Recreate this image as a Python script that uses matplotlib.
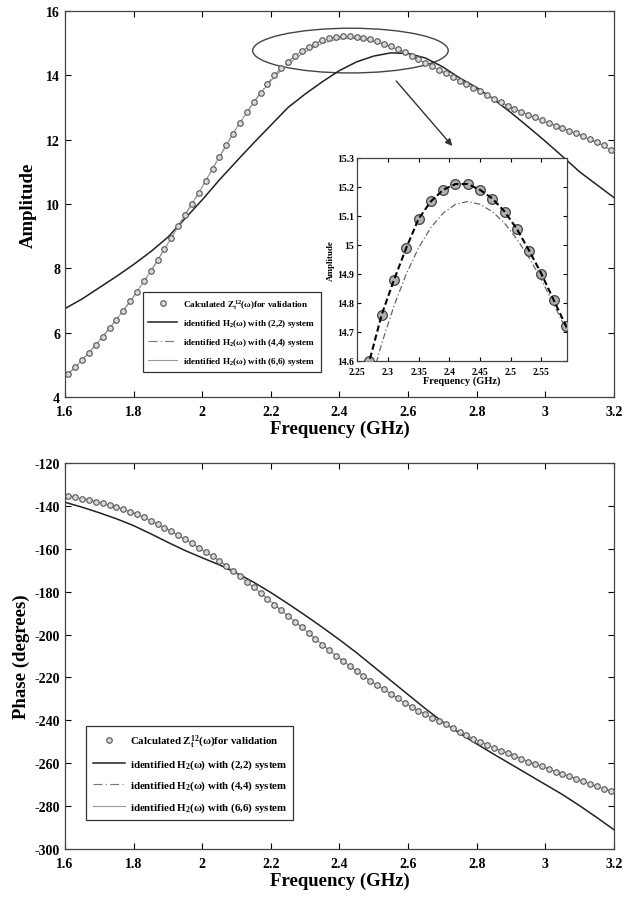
import numpy as np
import matplotlib.pyplot as plt
from matplotlib.patches import Ellipse

plt.rcParams['font.family'] = ['Liberation Serif', 'DejaVu Serif']
plt.rcParams['font.weight'] = 'bold'
plt.rcParams['axes.labelweight'] = 'bold'
plt.rcParams['axes.unicode_minus'] = False
plt.rcParams['mathtext.fontset'] = 'custom'
plt.rcParams['mathtext.rm'] = 'Liberation Serif:bold'
plt.rcParams['mathtext.it'] = 'Liberation Serif:bold'
plt.rcParams['mathtext.bf'] = 'Liberation Serif:bold'

# sampling grid of the calculated (validation) points, GHz
freq = np.round(np.arange(1.61, 3.19 + 0.001, 0.02), 2)
# grid used for the identified curves
line_freq = np.round(np.arange(1.60, 3.20 + 0.001, 0.05), 2)

z_amp = [4.73, 4.93, 5.16, 5.38, 5.63, 5.87, 6.15, 6.41, 6.69, 6.97,
         7.28, 7.60, 7.91, 8.25, 8.61, 8.94, 9.32, 9.67, 10.01, 10.35,
         10.72, 11.10, 11.46, 11.83, 12.19, 12.53, 12.85, 13.16, 13.46, 13.74,
         14.00, 14.22, 14.42, 14.60, 14.76, 14.88, 14.99, 15.09, 15.15, 15.19,
         15.21, 15.21, 15.19, 15.16, 15.115, 15.055, 14.98, 14.90, 14.81, 14.72,
         14.61, 14.50, 14.39, 14.28, 14.17, 14.06, 13.95, 13.83, 13.72, 13.61,
         13.50, 13.39, 13.28, 13.17, 13.06, 12.96, 12.87, 12.78, 12.69, 12.60,
         12.52, 12.44, 12.36, 12.28, 12.20, 12.11, 12.01, 11.92, 11.82, 11.68]

h44_amp = list(z_amp)

h66_amp = [4.73, 4.93, 5.16, 5.38, 5.63, 5.87, 6.15, 6.41, 6.69, 6.97,
           7.28, 7.60, 7.91, 8.25, 8.61, 8.94, 9.32, 9.67, 10.01, 10.35,
           10.72, 11.10, 11.46, 11.83, 12.19, 12.53, 12.85, 13.16, 13.44, 13.70,
           13.94, 14.15, 14.34, 14.51, 14.66, 14.79, 14.90, 14.99, 15.06, 15.11,
           15.14, 15.15, 15.14, 15.115, 15.075, 15.02, 14.955, 14.88, 14.795, 14.71,
           14.60, 14.49, 14.38, 14.27, 14.16, 14.05, 13.94, 13.82, 13.71, 13.60,
           13.49, 13.38, 13.27, 13.16, 13.05, 12.95, 12.86, 12.77, 12.68, 12.59,
           12.51, 12.43, 12.35, 12.27, 12.19, 12.10, 12.00, 11.91, 11.81, 11.67]

h22_amp = [6.75, 7.05, 7.40, 7.75, 8.12, 8.52, 8.97, 9.55, 10.13, 10.75,
           11.33, 11.90, 12.45, 13.00, 13.42, 13.80, 14.15, 14.42, 14.60, 14.70,
           14.68, 14.54, 14.27, 13.92, 13.62, 13.25, 12.84, 12.40, 11.95, 11.48,
           11.00, 10.60, 10.20]

z_phase = [-135.3, -136.0, -136.6, -137.2, -138.0, -138.8, -139.7, -140.7, -141.6, -142.7,
           -143.9, -145.3, -146.9, -148.5, -150.1, -151.8, -153.7, -155.6, -157.5, -159.5,
           -161.5, -163.5, -165.6, -167.9, -170.3, -172.8, -175.4, -178.0, -180.6, -183.3,
           -186.0, -188.6, -191.2, -193.9, -196.6, -199.3, -202.0, -204.7, -207.3, -209.8,
           -212.2, -214.7, -217.0, -219.3, -221.6, -223.7, -225.6, -227.8, -229.8, -231.8,
           -233.7, -235.6, -237.2, -238.8, -240.3, -241.8, -243.6, -245.4, -247.0, -248.5,
           -249.9, -251.4, -252.9, -254.2, -255.3, -256.5, -257.8, -259.3, -260.4, -261.4,
           -262.6, -263.9, -265.0, -266.1, -267.2, -268.5, -269.7, -270.8, -271.9, -272.9]

h44_phase = list(z_phase)
h66_phase = list(z_phase)

h22_phase = [-138.3, -140.6, -143.2, -146.0, -149.2, -153.0, -157.0, -160.8, -164.2, -167.5,
             -171.3, -175.6, -180.4, -185.6, -191.0, -196.6, -202.4, -208.5, -215.0, -221.5,
             -228.0, -234.5, -240.6, -246.0, -251.0, -255.8, -260.5, -265.2, -269.9, -274.6,
             -279.8, -285.3, -291.0]

label_z = r'Calculated $Z_t^{12}$(ω)for validation'
label_22 = r'identified H$_2$(ω) with (2,2) system'
label_44 = r'identified H$_2$(ω) with (4,4) system'
label_66 = r'identified H$_2$(ω) with (6,6) system'

spine_col = '#444444'
xt = [1.6, 1.8, 2, 2.2, 2.4, 2.6, 2.8, 3, 3.2]
xt_lab = ['1.6', '1.8', '2', '2.2', '2.4', '2.6', '2.8', '3', '3.2']


def style_axes(ax, size):
    ax.tick_params(direction='in', top=True, right=True, labelsize=size,
                   colors='black', length=4, width=0.8)
    for s in ax.spines.values():
        s.set_color(spine_col)
        s.set_linewidth(0.9)


fig = plt.figure(figsize=(6.31, 9.04), dpi=100)

# ---------- amplitude ----------
ax1 = fig.add_axes([0.103, 0.5597, 0.870, 0.427])
ax1.plot(freq, z_amp, 'o', ms=4, mfc='#d8d8d8', mec='#555555', mew=0.8,
         label=label_z, zorder=3)
ax1.plot(line_freq, h22_amp, '-', color='#222222', lw=1.1, label=label_22)
ax1.plot(freq, h44_amp, color='#777777', lw=0.8, ls=(0, (8, 3, 1, 3)), label=label_44)
ax1.plot(freq, h66_amp, color='#999999', lw=0.8, label=label_66)
ax1.set_xlim(1.6, 3.2)
ax1.set_ylim(4, 16)
ax1.set_xticks(xt)
ax1.set_xticklabels(xt_lab)
ax1.set_yticks([4, 6, 8, 10, 12, 14, 16])
style_axes(ax1, 10)
ax1.tick_params(axis='x', pad=6)
ax1.set_xlabel('Frequency (GHz)', fontsize=13.5, labelpad=1)
ax1.set_ylabel('Amplitude', fontsize=13.5, labelpad=7)

ell = Ellipse((2.432, 14.77), 0.57, 1.39, fill=False, ec='#444444', lw=1.0)
ax1.add_patch(ell)
ax1.annotate('', xy=(2.734, 11.74), xytext=(2.56, 13.89),
             arrowprops=dict(arrowstyle='-|>', color='#333333', lw=1.0,
                             mutation_scale=10))

leg1 = ax1.legend(loc='lower left', bbox_to_anchor=(0.133, 0.052), fontsize=6.6,
                  frameon=True, fancybox=False, edgecolor='#333333',
                  framealpha=1, handlelength=3.2, borderpad=0.6,
                  labelspacing=0.75, handletextpad=0.6)
leg1.get_frame().set_linewidth(0.9)

# inset zoom on the peak
axin = fig.add_axes([0.566, 0.5996, 0.333, 0.2246])
axin.plot(freq, z_amp, 'o', ms=7, mfc='#a8a8a8', mec='#333333', mew=0.9,
          alpha=0.9, zorder=3)
axin.plot(freq, h44_amp, '--', color='black', lw=1.5, dashes=(3, 1.5), zorder=4)
axin.plot(freq, h66_amp, color='#666666', lw=0.9, ls=(0, (5, 2, 1, 2)))
axin.set_xlim(2.25, 2.592)
axin.set_ylim(14.6, 15.3)
axin.set_xticks([2.25, 2.3, 2.35, 2.4, 2.45, 2.5, 2.55])
axin.set_xticklabels(['2.25', '2.3', '2.35', '2.4', '2.45', '2.5', '2.55'])
axin.set_yticks([14.6, 14.7, 14.8, 14.9, 15, 15.1, 15.2, 15.3])
axin.set_yticklabels(['14.6', '14.7', '14.8', '14.9', '15', '15.1', '15.2', '15.3'])
style_axes(axin, 7)
axin.tick_params(axis='y', length=3, pad=2)
axin.tick_params(axis='x', length=3, pad=4)
axin.set_xlabel('Frequency (GHz)', fontsize=7.5, labelpad=0)
axin.set_ylabel('Amplitude', fontsize=6.5, labelpad=2)

# ---------- phase ----------
ax2 = fig.add_axes([0.103, 0.0597, 0.870, 0.427])
ax2.plot(freq, z_phase, 'o', ms=4, mfc='#d8d8d8', mec='#555555', mew=0.8,
         label=label_z, zorder=3)
ax2.plot(line_freq, h22_phase, '-', color='#222222', lw=1.1, label=label_22)
ax2.plot(freq, h44_phase, color='#777777', lw=0.8, ls=(0, (8, 3, 1, 3)), label=label_44)
ax2.plot(freq, h66_phase, color='#999999', lw=0.8, label=label_66)
ax2.set_xlim(1.6, 3.2)
ax2.set_ylim(-300, -120)
ax2.set_xticks(xt)
ax2.set_xticklabels(xt_lab)
ax2.set_yticks(list(range(-300, -119, 20)))
style_axes(ax2, 10)
ax2.tick_params(axis='x', pad=6)
ax2.set_xlabel('Frequency (GHz)', fontsize=13.5, labelpad=1)
ax2.set_ylabel('Phase (degrees)', fontsize=13.5, labelpad=3)

leg2 = ax2.legend(loc='lower left', bbox_to_anchor=(0.029, 0.06), fontsize=7.8,
                  frameon=True, fancybox=False, edgecolor='#333333',
                  framealpha=1, handlelength=3.0, borderpad=0.6,
                  labelspacing=0.75, handletextpad=0.4)
leg2.get_frame().set_linewidth(0.9)

fig.savefig('out.png', dpi=100)
